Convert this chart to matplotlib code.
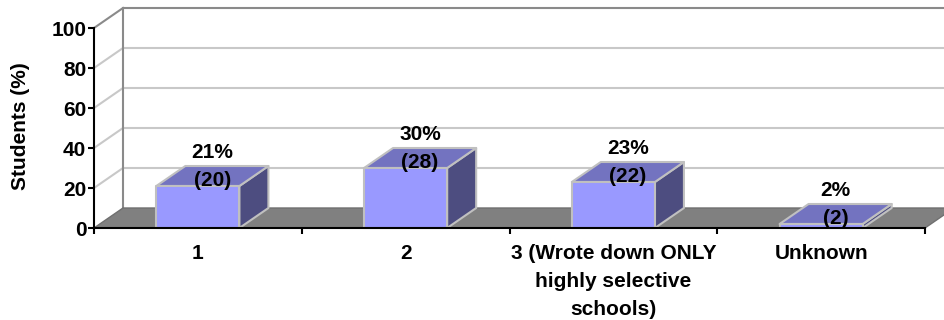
import matplotlib
matplotlib.use('Agg')
import matplotlib.pyplot as plt
from matplotlib.patches import Polygon

# ---- data ----
categories = ['1', '2', '3 (Wrote down ONLY\nhighly selective\nschools)', 'Unknown']
percents = [21, 30, 23, 2]
counts = [20, 28, 22, 2]
y_ticks = [0, 20, 40, 60, 80, 100]
y_label = 'Students (%)'

plt.rcParams['font.family'] = ['Liberation Sans', 'DejaVu Sans']
plt.rcParams['font.weight'] = 'bold'

W, H = 944, 320
fig = plt.figure(figsize=(W / 100, H / 100), dpi=100)
ax = fig.add_axes([94 / W, (H - 228) / H, 831 / W, 200 / H])
ax.set_facecolor('none')
n = len(categories)
ax.set_xlim(-0.5, n - 0.5)
ax.set_ylim(0, 100)

DX = 29 / 207.75   # depth offset in category units
DY = 10            # depth offset in value units
BW = 0.4

light = '#c8c8c8'
dark = '#8a8a8a'

# back wall gridlines and side wall diagonals
for v in y_ticks[1:]:
    c = dark if v == y_ticks[-1] else light
    ax.plot([-0.5 + DX, n + 0.5], [v + DY, v + DY], color=c, lw=1.5,
            clip_on=False, zorder=0.5, solid_capstyle='butt')
    ax.plot([-0.5, -0.5 + DX], [v, v + DY], color=c, lw=1.5,
            clip_on=False, zorder=0.5)
ax.plot([-0.5 + DX, -0.5 + DX], [DY, y_ticks[-1] + DY], color=dark, lw=1.5,
        clip_on=False, zorder=0.6)

# floor
floor = Polygon([(-0.5, 0), (n - 0.5, 0), (n - 0.5 + DX, DY), (-0.5 + DX, DY)],
                closed=True, facecolor='#808080', edgecolor='#707070', lw=1.0,
                clip_on=False, zorder=1)
ax.add_patch(floor)

# bars
edge = '#c0c0c0'
for i, v in enumerate(percents):
    x0, x1 = i - BW / 2, i + BW / 2
    side = Polygon([(x1, 0), (x1 + DX, DY), (x1 + DX, v + DY), (x1, v)],
                   closed=True, facecolor='#4d4d80', edgecolor=edge, lw=1.5,
                   clip_on=False, zorder=2, joinstyle='round')
    top = Polygon([(x0, v), (x1, v), (x1 + DX, v + DY), (x0 + DX, v + DY)],
                  closed=True, facecolor='#7373c0', edgecolor=edge, lw=1.5,
                  clip_on=False, zorder=2, joinstyle='round')
    front = Polygon([(x0, 0), (x1, 0), (x1, v), (x0, v)],
                    closed=True, facecolor='#9999ff', edgecolor=edge, lw=1.5,
                    clip_on=False, zorder=2.1, joinstyle='round')
    for p in (side, top, front):
        ax.add_patch(p)
    ax.text(i + DX / 2, v + 17, f'{v}%', ha='center', va='center',
            fontsize=15, fontweight='bold', zorder=5, clip_on=False)
    ax.text(i + DX / 2, v + 3, f'({counts[i]})', ha='center', va='center',
            fontsize=15, fontweight='bold', zorder=5, clip_on=False)

# axes
for s in ('top', 'right'):
    ax.spines[s].set_visible(False)
for s in ('left', 'bottom'):
    ax.spines[s].set_color('black')
    ax.spines[s].set_linewidth(1.5)
    ax.spines[s].set_zorder(3)

ax.set_yticks(y_ticks)
ax.set_yticklabels([str(t) for t in y_ticks])
ax.tick_params(axis='y', length=4.5, width=1.5, pad=1, labelsize=15, color='black')

ax.set_xticks(range(n))
ax.set_xticklabels(categories, fontsize=15, fontweight='bold', linespacing=1.6)
ax.set_xticks([i - 0.5 for i in range(n + 1)], minor=True)
ax.tick_params(axis='x', which='major', length=0, pad=11.5)
ax.tick_params(axis='x', which='minor', length=4.5, width=1.5, direction='out', color='black')

fig.text(21 / W, 1 - 126 / H, y_label, rotation=90, ha='center', va='center',
         fontsize=15, fontweight='bold')

fig.savefig('out.png', dpi=100)
